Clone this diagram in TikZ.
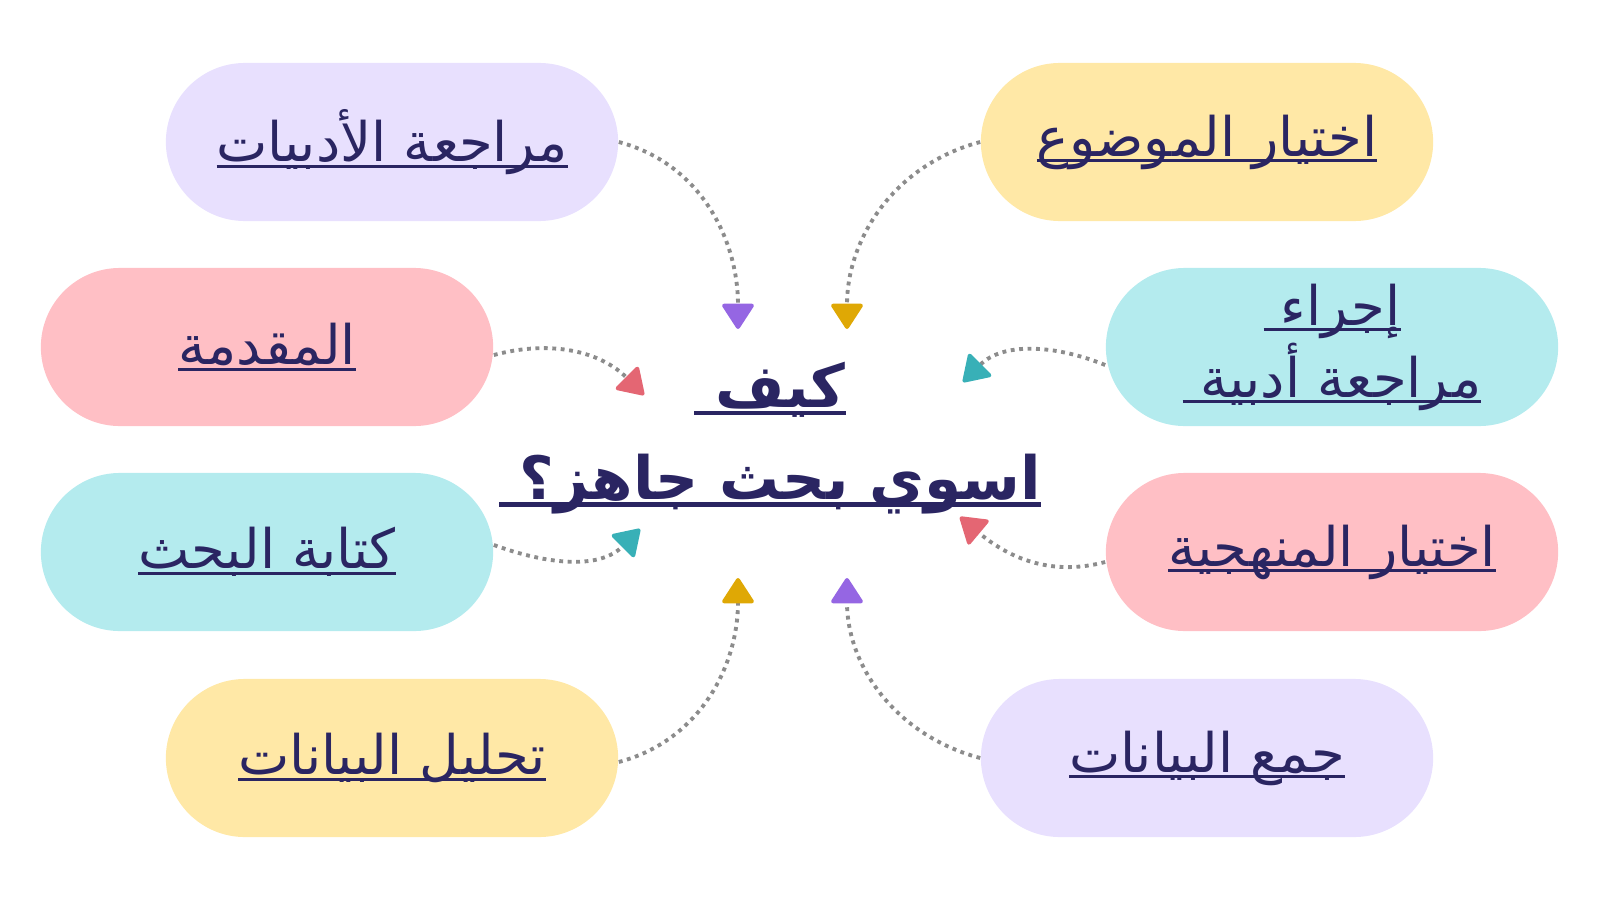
\documentclass[tikz,border=0pt]{standalone}
\usepackage{fontspec}
\usetikzlibrary{arrows.meta}
\TeXXeTstate=1
\newfontfamily\arabicfont[Script=Arabic]{DejaVu Sans}

\definecolor{inkblue}{HTML}{2A2562}
\definecolor{lavender}{HTML}{E8E0FE}
\definecolor{butter}{HTML}{FFE8A6}
\definecolor{blush}{HTML}{FFBFC5}
\definecolor{aqua}{HTML}{B4EBEE}
\definecolor{violettip}{HTML}{9566E3}
\definecolor{goldtip}{HTML}{DFA805}
\definecolor{rosetip}{HTML}{E46673}
\definecolor{tealtip}{HTML}{38B0B7}
\definecolor{dotgray}{HTML}{8C8C8C}

% underlined right-to-left text
\newcommand{\ulr}[2][0.9pt]{\setbox0=\hbox{\beginR#2\endR}\rlap{\rule[-\dimexpr 0.9pt+#1\relax]{\wd0}{#1}}\box0}

\tikzset{
	pill/.style={fill=#1, rounded corners=0.79cm, minimum width=4.52cm, minimum height=1.58cm,
		inner sep=0pt, text=inkblue, align=center, font=\arabicfont\fontsize{15.5}{20.5}\selectfont},
	headline/.style={text=inkblue, align=center, font=\arabicfont\bfseries\fontsize{17}{26}\selectfont},
	dots/.style={draw=dotgray, line width=1.1pt, dash pattern=on 1.1pt off 1.3pt},
	tip/.style={-{Triangle[length=2.7mm,width=3.4mm,round,color=#1,fill=#1]}}
}

\begin{document}
\begin{tikzpicture}[x=0.01cm,y=0.01cm]
			%%%%% START %%%%%
			\useasboundingbox (0,0) rectangle (1600,-900);
			
			\node[pill=lavender] (review) at (392,-142) {\ulr{مراجعة الأدبيات}};
			\node[pill=butter] (topic) at (1207,-142) {\ulr{اختيار الموضوع}};
			\node[pill=blush] (intro) at (267,-347) {\ulr{المقدمة}};
			\node[pill=aqua] (survey) at (1332,-347) {\ulr{إجراء }\\\ulr{مراجعة أدبية }};
			\node[pill=aqua] (writing) at (267,-552) {\ulr{كتابة البحث}};
			\node[pill=blush] (method) at (1332,-552) {\ulr{اختيار المنهجية}};
			\node[pill=butter] (analysis) at (392,-758) {\ulr{تحليل البيانات}};
			\node[pill=lavender] (collect) at (1207,-758) {\ulr{جمع البيانات}};
			
			\node[headline] (howto) at (770,-438) {\ulr[1.2pt]{كيف }\\\ulr[1.2pt]{اسوي بحث جاهز؟ }};
			
			\coordinate (tA) at (738,-329);
			\coordinate (tB) at (847,-329);
			\coordinate (tC) at (644,-395);
			\coordinate (tD) at (640,-529);
			\coordinate (tE) at (963,-382);
			\coordinate (tF) at (960,-517);
			\coordinate (tG) at (738,-578);
			\coordinate (tH) at (847,-578);
			
			\draw[dots, tip=violettip] (review.east) to[out=-15,in=90] (tA);
			\draw[dots, tip=goldtip] (topic.west) to[out=195,in=90] (tB);
			\draw[dots, tip=rosetip] ([yshift=-0.08cm]intro.east) to[out=15,in=135] (tC);
			\draw[dots, tip=tealtip] ([yshift=0.07cm]writing.east) to[out=-20,in=-135] (tD);
			\draw[dots, tip=tealtip] ([yshift=-0.18cm]survey.west) to[out=158,in=45] (tE);
			\draw[dots, tip=rosetip] ([yshift=-0.1cm]method.west) to[out=195,in=-40] (tF);
			\draw[dots, tip=goldtip] ([yshift=-0.04cm]analysis.east) to[out=15,in=-90] (tG);
			\draw[dots, tip=violettip] (collect.west) to[out=165,in=-90] (tH);
			
			%%%%% END %%%%%
\end{tikzpicture}
\end{document}
